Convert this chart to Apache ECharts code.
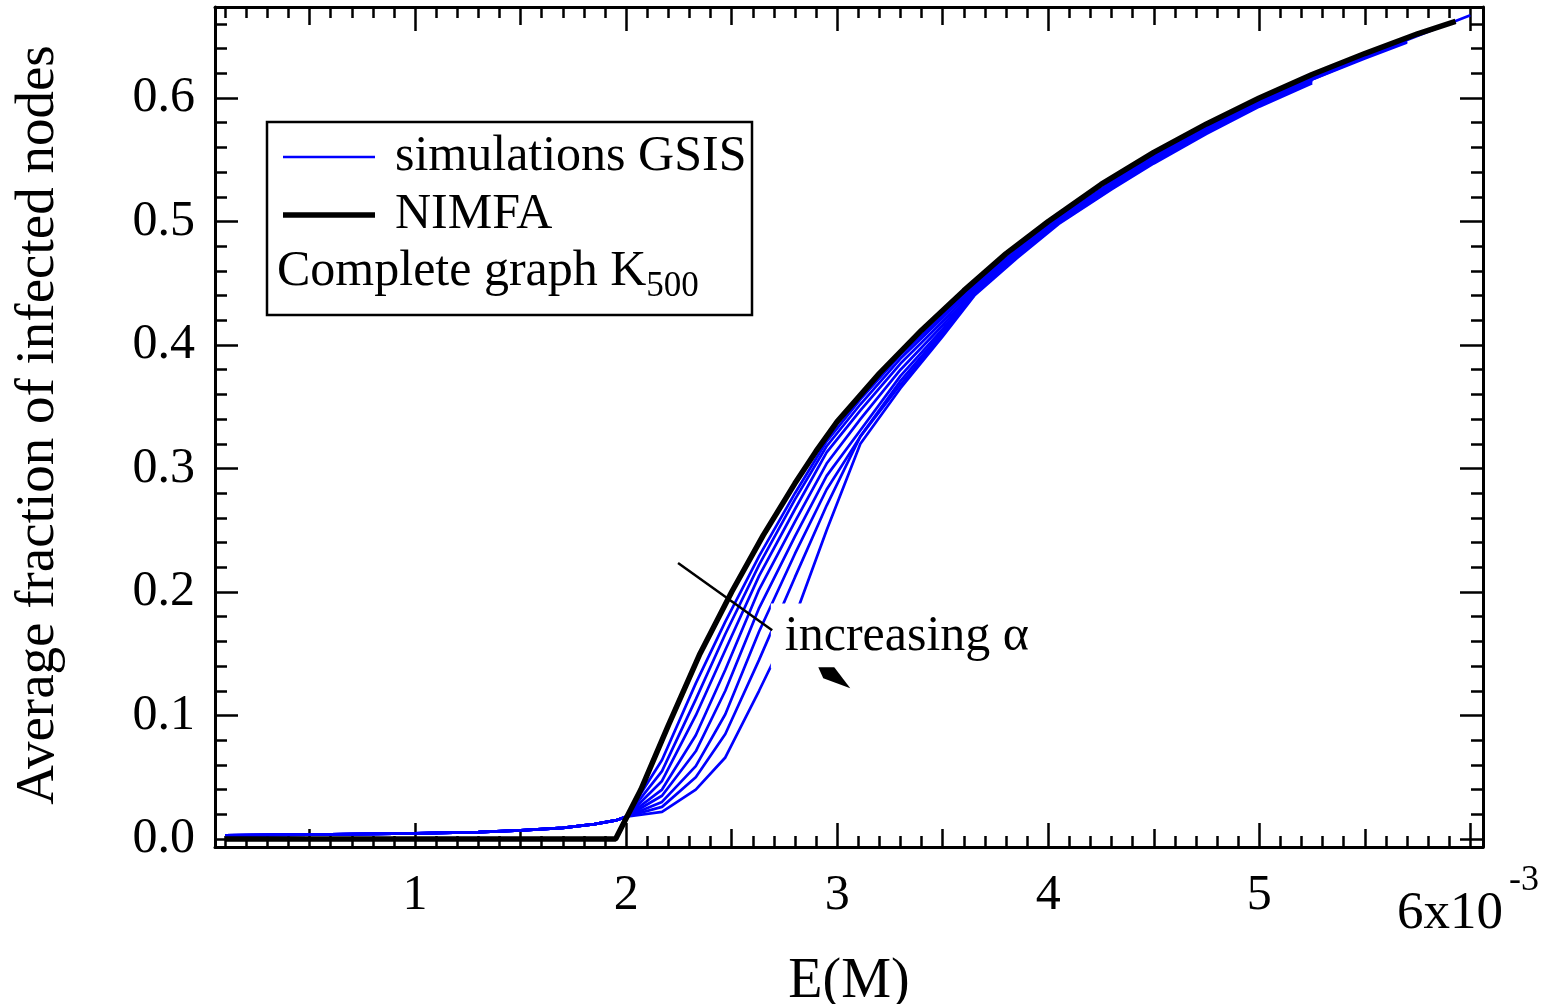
<!DOCTYPE html>
<html>
<head>
<meta charset="utf-8">
<script src="https://cdn.jsdelivr.net/npm/echarts@6/dist/echarts.min.js"></script>
<style>
html, body { margin: 0; padding: 0; background: #fff; }
#chart { width: 1546px; height: 1004px; }
</style>
</head>
<body>
<div id="chart"></div>
<script>
// E(M) in units of 1e-3
var lowX = [0.1, 0.5, 1.0, 1.3, 1.5, 1.7, 1.85, 1.95];
var lowY = [0.003, 0.0035, 0.0045, 0.0055, 0.007, 0.009, 0.012, 0.015];

var fanX = [2.0, 2.17, 2.33, 2.47, 2.63, 2.8, 2.95, 3.11, 3.3, 3.5, 3.65, 3.85, 4.05, 4.3, 4.5, 4.75, 5.0, 5.25, 5.5, 5.7, 6.0];
var sim1 = [0.018, 0.064, 0.126, 0.176, 0.229, 0.280, 0.322, 0.356, 0.392, 0.424, 0.449, 0.477, 0.503, 0.532, 0.553, 0.576, 0.597, 0.616, 0.634, 0.647, 0.667];
var sim2 = [0.018, 0.055, 0.113, 0.166, 0.222, 0.275, 0.318, 0.352, 0.389, 0.422, 0.448, 0.476, 0.502, 0.531, 0.552, 0.575, 0.597, 0.616, 0.633, 0.646];
var sim3 = [0.018, 0.047, 0.100, 0.153, 0.213, 0.267, 0.313, 0.347, 0.385, 0.419, 0.446, 0.475, 0.501, 0.530, 0.551, 0.575, 0.596, 0.615, 0.633, 0.646];
var sim4 = [0.018, 0.040, 0.084, 0.137, 0.202, 0.257, 0.304, 0.340, 0.380, 0.416, 0.444, 0.474, 0.501, 0.529, 0.551, 0.574, 0.596, 0.615, 0.632, 0.645];
var sim5 = [0.018, 0.035, 0.071, 0.120, 0.187, 0.245, 0.294, 0.331, 0.375, 0.413, 0.443, 0.473, 0.500, 0.529, 0.550, 0.573, 0.595, 0.614];
var sim6 = [0.018, 0.030, 0.059, 0.101, 0.168, 0.231, 0.283, 0.326, 0.371, 0.411, 0.442, 0.472, 0.499, 0.528, 0.549, 0.573, 0.595, 0.614];
var sim7 = [0.018, 0.026, 0.050, 0.085, 0.145, 0.212, 0.270, 0.326, 0.368, 0.409, 0.441, 0.471, 0.499, 0.527, 0.548, 0.572, 0.594, 0.613];
var sim8 = [0.018, 0.022, 0.040, 0.066, 0.120, 0.180, 0.250, 0.320, 0.365, 0.407, 0.440, 0.470, 0.498, 0.526, 0.547, 0.571, 0.593, 0.612];

var nimfaX = [0.1, 1.95, 2.07, 2.2, 2.35, 2.5, 2.65, 2.8, 2.9, 3.0, 3.2, 3.4, 3.6, 3.8, 4.0, 4.25, 4.5, 4.75, 5.0, 5.25, 5.5, 5.75, 5.93];
var nimfaY = [0, 0, 0.04, 0.092, 0.15, 0.2, 0.246, 0.288, 0.314, 0.338, 0.377, 0.412, 0.444, 0.474, 0.50, 0.53, 0.556, 0.579, 0.60, 0.619, 0.636, 0.652, 0.662];

var xTickLabels = [1, 2, 3, 4, 5];
var yTickLabels = [0, 0.1, 0.2, 0.3, 0.4, 0.5, 0.6];

var X_MIN = 0.052, X_MAX = 6.06;
var Y_MIN = -0.0065, Y_MAX = 0.6737;
var FONT = '"Liberation Serif", "Times New Roman", serif';

function steps(from, to, step) {
  var out = [];
  for (var i = Math.round(from / step); i * step <= to + 1e-9; i++) out.push(+(i * step).toFixed(4));
  return out;
}

function pairs(xs, ys) {
  return ys.map(function (y, i) { return [xs[i], y]; });
}

function simData(ys) {
  return pairs(lowX, lowY).concat(pairs(fanX, ys));
}

function xAx(pos, vals, len, labels) {
  return {
    type: 'value', position: pos, min: X_MIN, max: X_MAX,
    axisLine: { show: len === 24, onZero: false, lineStyle: { color: '#000', width: 3 } },
    axisTick: { inside: true, length: len, customValues: vals, lineStyle: { color: '#000', width: 2.5 } },
    axisLabel: labels ? {
      customValues: labels, margin: 24, color: '#000', fontSize: 50, fontFamily: FONT
    } : { show: false },
    splitLine: { show: false }
  };
}

function yAx(pos, vals, len, labels) {
  return {
    type: 'value', position: pos, min: Y_MIN, max: Y_MAX,
    axisLine: { show: len === 23, onZero: false, lineStyle: { color: '#000', width: 3 } },
    axisTick: { inside: true, length: len, customValues: vals, lineStyle: { color: '#000', width: 2.5 } },
    axisLabel: labels ? {
      customValues: labels, margin: 20, color: '#000', fontSize: 50, fontFamily: FONT,
      formatter: function (v) { return v.toFixed(1); }
    } : { show: false },
    splitLine: { show: false }
  };
}

var sims = [sim1, sim2, sim3, sim4, sim5, sim6, sim7, sim8];
var series = sims.map(function (s) {
  return {
    name: 'simulations GSIS', type: 'line', data: simData(s),
    showSymbol: false, symbol: 'none', silent: true,
    lineStyle: { color: '#0000ff', width: 2.7 }, z: 2
  };
});
series.push({
  name: 'NIMFA', type: 'line', data: pairs(nimfaX, nimfaY),
  showSymbol: false, symbol: 'none', silent: true,
  lineStyle: { color: '#000', width: 5.5 }, z: 3
});

var chart = echarts.init(document.getElementById('chart'));
chart.setOption({
  backgroundColor: '#fff',
  animation: false,
  grid: { left: 215, right: 63, top: 7, bottom: 157 },
  xAxis: [
    xAx('bottom', [1, 2, 3, 4, 5, 6], 24, xTickLabels),
    xAx('bottom', steps(0.5, 6, 0.5), 18),
    xAx('bottom', steps(0.1, 6, 0.1), 11),
    xAx('top', [1, 2, 3, 4, 5, 6], 24),
    xAx('top', steps(0.5, 6, 0.5), 18),
    xAx('top', steps(0.1, 6, 0.1), 11)
  ],
  yAxis: [
    yAx('left', yTickLabels, 23, yTickLabels),
    yAx('left', steps(0, 0.66, 0.02), 12),
    yAx('right', yTickLabels, 23),
    yAx('right', steps(0, 0.66, 0.02), 12)
  ],
  series: series
});

// annotations placed in data coordinates
function px(x, y) { return chart.convertToPixel({ gridIndex: 0 }, [x, y]); }

var ctx = document.createElement('canvas').getContext('2d');
ctx.font = '50px ' + FONT;
var kWidth = ctx.measureText('Complete graph K').width;

var p0 = px(2.246, 0.2235), p1 = px(2.692, 0.169);
var tPos = px(2.752, 0.164);
var tip = px(3.062, 0.122);

chart.setOption({
  graphic: [
    // legend box
    { type: 'rect', z: 100, shape: { x: 267, y: 122, width: 485, height: 193 },
      style: { fill: '#fff', stroke: '#000', lineWidth: 2.5 } },
    { type: 'line', z: 101, shape: { x1: 283, y1: 157, x2: 375, y2: 157 },
      style: { stroke: '#0000ff', lineWidth: 2.7 } },
    { type: 'text', z: 101, x: 395, y: 157,
      style: { text: 'simulations GSIS', font: '50px ' + FONT, fill: '#000', textVerticalAlign: 'middle' } },
    { type: 'line', z: 101, shape: { x1: 283, y1: 215, x2: 375, y2: 215 },
      style: { stroke: '#000', lineWidth: 5.5 } },
    { type: 'text', z: 101, x: 395, y: 215,
      style: { text: 'NIMFA', font: '50px ' + FONT, fill: '#000', textVerticalAlign: 'middle' } },
    { type: 'text', z: 101, x: 277, y: 272,
      style: { text: 'Complete graph K', font: '50px ' + FONT, fill: '#000', textVerticalAlign: 'middle' } },
    { type: 'text', z: 101, x: 277 + kWidth, y: 287,
      style: { text: '500', font: '35px ' + FONT, fill: '#000', textVerticalAlign: 'middle' } },

    // "increasing alpha" annotation
    { type: 'rect', z: 100, shape: { x: tPos[0] - 14, y: tPos[1] - 33, width: 262, height: 65 },
      style: { fill: '#fff' } },
    { type: 'line', z: 101, shape: { x1: p0[0], y1: p0[1], x2: p1[0], y2: p1[1] },
      style: { stroke: '#000', lineWidth: 2.5 } },
    { type: 'text', z: 101, x: tPos[0], y: tPos[1],
      style: { text: 'increasing \u03b1', font: '50px ' + FONT, fill: '#000', textVerticalAlign: 'middle' } },
    { type: 'polygon', z: 101,
      shape: { points: [[tip[0] - 32, tip[1] - 21], [tip[0] - 16, tip[1] - 21], [tip[0], tip[1]], [tip[0] - 27, tip[1] - 10]] },
      style: { fill: '#000' } },

    // axis titles
    { type: 'text', z: 101, x: 39, y: 425, rotation: Math.PI / 2,
      style: { text: 'Average fraction of infected nodes', font: '55px ' + FONT, fill: '#000',
        textAlign: 'center', textVerticalAlign: 'middle' } },
    { type: 'text', z: 101, x: 849, y: 982,
      style: { text: 'E(M)', font: '56px ' + FONT, fill: '#000', textAlign: 'center', textVerticalAlign: 'middle' } },
    { type: 'text', z: 101, x: 1397, y: 914,
      style: { text: '6x10', font: '53px ' + FONT, fill: '#000', textVerticalAlign: 'middle' } },
    { type: 'text', z: 101, x: 1509, y: 881,
      style: { text: '-3', font: '36px ' + FONT, fill: '#000', textVerticalAlign: 'middle' } }
  ]
});
</script>
</body>
</html>
